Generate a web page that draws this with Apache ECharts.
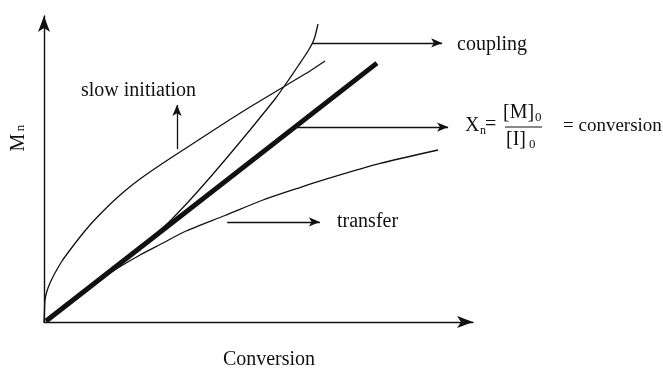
<!DOCTYPE html>
<html><head><meta charset="utf-8">
<script src="https://cdn.jsdelivr.net/npm/echarts@6/dist/echarts.min.js"></script>
<style>html,body{margin:0;padding:0;background:#fff}#c{width:663px;height:369px}</style>
</head><body><div id="c"></div>
<script>
// Schematic data (conversion %, relative Mn %)
const idealLine = [[0.5,0.3],[77.6,84.6]];
const slowInitiation = [[0,0],[0.07,2.29],[0.23,7.19],[0.70,10.13],[1.40,12.75],[2.56,16.01],[4.20,19.93],[6.06,23.53],[8.39,27.78],[10.72,31.70],[13.29,35.52],[16.08,39.38],[19.11,43.14],[22.38,46.73],[25.87,50.16],[29.37,53.43],[34.03,57.68],[38.69,61.93],[43.36,66.18],[48.02,70.26],[52.68,74.18],[57.34,78.10],[62.00,82.03],[65.50,85.29]];
const coupling = [[0.47,0.33],[6.06,6.44],[13.05,14.22],[20.05,22.06],[24.71,27.29],[28.90,32.35],[34.03,39.87],[38.69,47.22],[43.36,54.90],[48.02,62.75],[51.52,68.79],[53.85,72.88],[55.71,76.47],[59.21,83.66],[61.54,88.56],[62.94,92.32],[63.87,97.39]];
const transfer = [[0.47,0.33],[6.06,6.44],[11.89,12.75],[17.02,17.48],[22.38,21.90],[27.74,25.82],[33.10,29.74],[42.19,34.80],[51.05,39.87],[59.67,43.95],[66.67,47.06],[78.32,51.80],[91.84,56.21]];
// annotation arrows: [start, end]
const arrows = [
  [[62.5,91.2],[92.8,91.2]],
  [[59.0,63.7],[94.2,63.7]],
  [[31.0,56.5],[31.0,70.9]],
  [[42.7,32.7],[64.3,32.7]]
];
const labels = {slow:'slow initiation', coupling:'coupling', transfer:'transfer', x:'Conversion', y:'M', ysub:'n'};

const INK = '#111';
const FONT = '"Liberation Serif", "Times New Roman", serif';
const chart = echarts.init(document.getElementById('c'), null, {renderer:'canvas'});
const axisCommon = {
  type:'value', min:0, max:100,
  axisLine:{show:true, onZero:false, symbol:['none','arrow'], symbolSize:[9,16], lineStyle:{color:INK, width:1.4}},
  axisTick:{show:false}, axisLabel:{show:false}, splitLine:{show:false}
};
function txt(x, y, t, size, align, extra) {
  return Object.assign({type:'text', x:x, y:y, silent:true,
    style:{text:t, font: size + 'px ' + FONT, fill:INK, align:align||'left', verticalAlign:'middle'}}, extra||{});
}
const thin = {color:INK, width:1.3};
const curve = {type:'line', smooth:0.25, showSymbol:false, lineStyle:thin, silent:true};
chart.setOption({
  animation:false,
  backgroundColor:'#fff',
  grid:{left:44, right:190, top:16, bottom:47},
  xAxis: axisCommon,
  yAxis: axisCommon,
  series:[
    Object.assign({data:slowInitiation}, curve),
    Object.assign({data:coupling}, curve),
    Object.assign({data:transfer}, curve),
    {type:'line', data:idealLine, showSymbol:false, lineStyle:{color:INK, width:5}, silent:true,
     markLine:{silent:true, symbol:['none','arrow'], symbolSize:[7,11], label:{show:false},
       lineStyle:{color:INK, width:1.3, type:'solid'},
       data: arrows.map(a => [{coord:a[0]},{coord:a[1]}])}}
  ],
  graphic:[
    txt(81, 91, labels.slow, 20),
    txt(457, 45, labels.coupling, 20),
    txt(337, 222, labels.transfer, 20),
    txt(269, 360, labels.x, 20, 'center'),
    txt(19, 142.5, labels.y, 20, 'center', {rotation:Math.PI/2}),
    txt(21, 128, labels.ysub, 13, 'center', {rotation:Math.PI/2}),
    txt(465, 126, 'X', 20),
    txt(480, 131, 'n', 12),
    txt(485, 125, '=', 20),
    txt(503, 113, '[M]', 20),
    txt(535, 118, '0', 13),
    {type:'line', silent:true, shape:{x1:505, y1:127, x2:542, y2:127}, style:{stroke:INK, lineWidth:1}},
    txt(516, 140, '[I]', 20, 'center'),
    txt(529, 145, '0', 13),
    txt(563, 126, '= conversion', 19)
  ]
});
</script></body></html>
